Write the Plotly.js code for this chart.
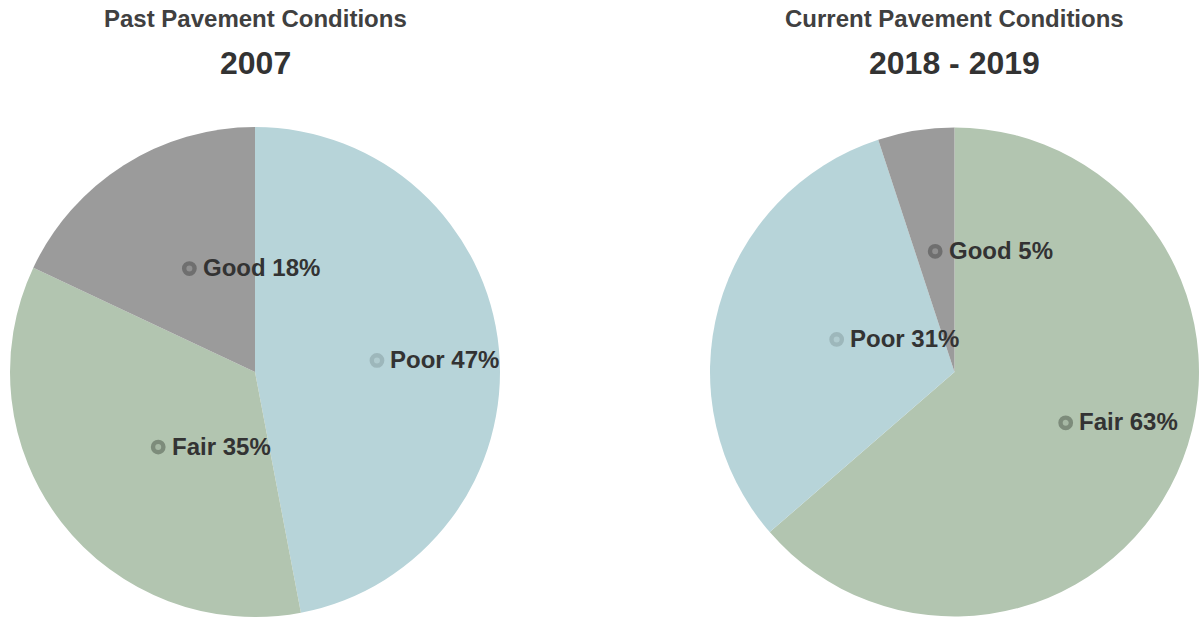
<!DOCTYPE html>
<html>
<head>
<meta charset="utf-8">
<script src="https://cdn.plot.ly/plotly-3.0.1.min.js"></script>
<style>html,body{margin:0;padding:0;background:#fff;}#chart{width:1199px;height:620px;}</style>
</head>
<body>
<div id="chart"></div>
<script>
// ---- data ----
var pastTitle = "Past Pavement Conditions";
var pastYear = "2007";
var pastLabels = ["Poor", "Fair", "Good"];
var pastValues = [47, 35, 18];

var currTitle = "Current Pavement Conditions";
var currYear = "2018 - 2019";
var currLabels = ["Fair", "Poor", "Good"];
var currValues = [63, 31, 5];

// ---- styles ----
var W = 1199, H = 620;
var sliceColors = {Poor: "#b7d4d9", Fair: "#b2c5b0", Good: "#9b9b9b"};
var ringColors = {Poor: "#9db7bb", Fair: "#7d8c7b", Good: "#6f6f6f"};
var innerColors = {Poor: "#b0cbcf", Fair: "#a6b8a4", Good: "#909090"};
var FONT = "Liberation Sans, Arial, sans-serif";

// pie geometry (pixels)
var pies = [
  {cx: 255, cy: 372, r: 245, labels: pastLabels, values: pastValues, title: pastTitle, year: pastYear},
  {cx: 954.5, cy: 372, r: 244.5, labels: currLabels, values: currValues, title: currTitle, year: currYear}
];

var traces = [];
var annotations = [];
var shapes = [];
var MR = 5.2; // marker ring radius px
pies.forEach(function(p){
  traces.push({
    type: "pie", labels: p.labels, values: p.values, sort: false, direction: "clockwise",
    rotation: 0, textinfo: "none", hoverinfo: "label+percent",
    marker: {colors: p.labels.map(function(l){return sliceColors[l];}), line: {width: 0}},
    domain: {x: [(p.cx - p.r)/W, Math.min(1,(p.cx + p.r)/W)], y: [(H - p.cy - p.r)/H, (H - p.cy + p.r)/H]},
    showlegend: false
  });
  var total = p.values.reduce(function(a,b){return a+b;},0);
  var cum = 0;
  p.values.forEach(function(v,i){
    var mid = (cum + v/2)/total*2*Math.PI;
    cum += v;
    var x = p.cx + 0.5*p.r*Math.sin(mid);
    var y = p.cy - 0.5*p.r*Math.cos(mid);
    var lab = p.labels[i];
    shapes.push({type: "circle", xref: "x", yref: "y", layer: "above",
      x0: x - MR, x1: x + MR, y0: y - MR, y1: y + MR,
      fillcolor: innerColors[lab], line: {color: ringColors[lab], width: 4.4}});
    annotations.push({x: x + 11.5, y: y - 1, xref: "x", yref: "y", xanchor: "left", yanchor: "middle",
      showarrow: false, text: "<b>" + lab + " " + v + "%</b>",
      font: {family: FONT, size: 24, color: "#333333"}});
  });
  annotations.push({x: p.cx/W, y: 1 - 19/H, xref: "paper", yref: "paper", text: "<b>" + p.title + "</b>",
    showarrow: false, xanchor: "center", yanchor: "middle", font: {family: FONT, size: 24, color: "#404040"}});
  annotations.push({x: p.cx/W, y: 1 - 63/H, xref: "paper", yref: "paper", text: "<b>" + p.year + "</b>",
    showarrow: false, xanchor: "center", yanchor: "middle", font: {family: FONT, size: 32, color: "#333333"}});
});

var layout = {
  width: W, height: H, margin: {l: 0, r: 0, t: 0, b: 0},
  paper_bgcolor: "#ffffff", plot_bgcolor: "rgba(0,0,0,0)",
  xaxis: {range: [0, W], visible: false, fixedrange: true},
  yaxis: {range: [H, 0], visible: false, fixedrange: true},
  annotations: annotations, shapes: shapes, showlegend: false
};
Plotly.newPlot("chart", traces, layout, {displayModeBar: false, staticPlot: true});
</script>
</body>
</html>
